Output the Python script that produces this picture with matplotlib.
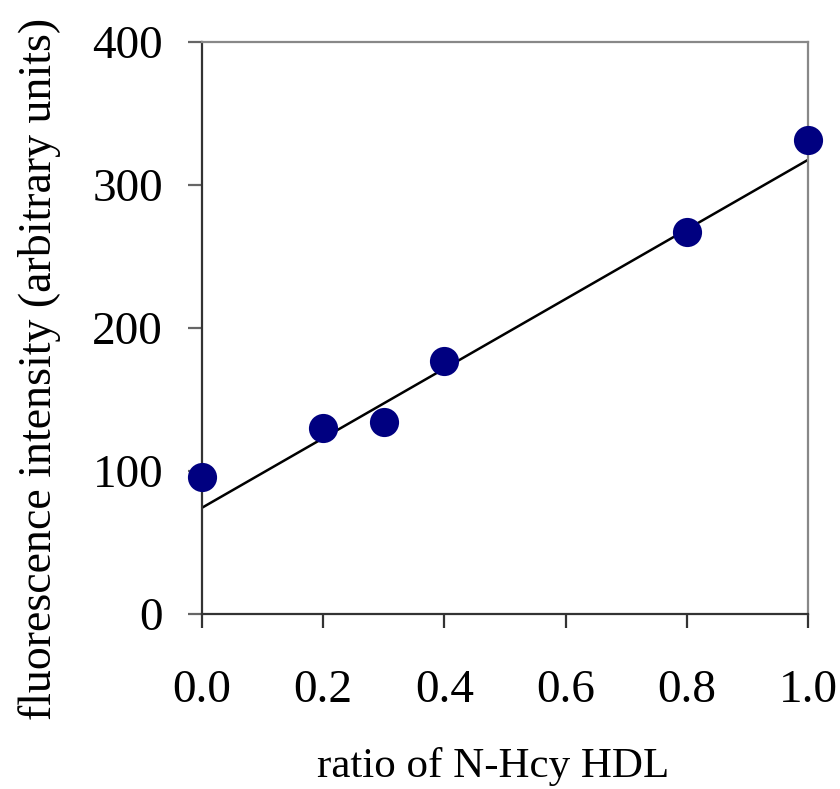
import matplotlib
matplotlib.use("Agg")
import matplotlib.pyplot as plt
import numpy as np

plt.rcParams['font.family'] = ['Liberation Serif', 'DejaVu Serif']

# data
ratio = [0.0, 0.2, 0.3, 0.4, 0.8, 1.0]
intensity = [95.6, 130.3, 134.0, 177.0, 267.0, 331.5]

# trend line as drawn in the reference
fit_intercept = 74.3
fit_slope = 243.3

xticks = [0.0, 0.2, 0.4, 0.6, 0.8, 1.0]
xticklabels = ["0.0", "0.2", "0.4", "0.6", "0.8", "1.0"]
yticks = [0, 100, 200, 300, 400]

W, H = 840, 789
fig = plt.figure(figsize=(W/100, H/100), dpi=100)
ax = fig.add_axes([202/W, 1-614/H, (808-202)/W, (614-42)/H])

xx = np.array([0.0, 1.0])
ax.plot(xx, fit_intercept + fit_slope*xx, color='black', lw=1.8, zorder=2)
ax.plot(ratio, intensity, 'o', color='#000080', markersize=21, markeredgewidth=0,
        clip_on=False, zorder=3)

ax.set_xlim(0, 1)
ax.set_ylim(0, 400)
ax.set_xticks(xticks)
ax.set_xticklabels(xticklabels)
ax.set_yticks(yticks)

for side in ['left', 'bottom']:
    ax.spines[side].set_color('#333333')
    ax.spines[side].set_linewidth(1.6)
for side in ['top', 'right']:
    ax.spines[side].set_color('#888888')
    ax.spines[side].set_linewidth(1.6)

ax.tick_params(axis='y', direction='out', length=10, width=1.6, color='#666666',
               labelsize=34, pad=18)
ax.tick_params(axis='x', direction='out', length=10, width=1.6, color='#333333',
               labelsize=34, pad=30)

fig.text(493/W, 1-766/H, "ratio of N-Hcy HDL", fontsize=31,
         ha='center', va='center')
fig.text(40/W, 1-369/H, "fluorescence intensity (arbitrary units)", fontsize=33,
         rotation=90, ha='center', va='center')

fig.savefig("out.png", dpi=100)
